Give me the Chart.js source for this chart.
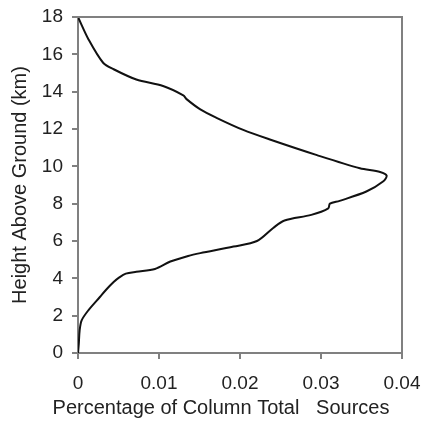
<!DOCTYPE html>
<html>
<head>
<meta charset="utf-8">
<script src="https://cdn.jsdelivr.net/npm/chart.js@4"></script>
<style>
  html, body { margin: 0; padding: 0; background: #fff; }
  #wrap { width: 423px; height: 422px; }
</style>
</head>
<body>
<div id="wrap"><canvas id="profile"></canvas></div>
<script>
// Height above ground (km) and matching share of column total
const heights = [0, 0.5, 1.2, 1.75, 2.3, 3.0, 3.4, 3.8, 4.05, 4.25, 4.35, 4.5, 4.9, 5.2, 5.35, 5.7, 6.0, 6.7, 7.1, 7.4, 7.75, 8.0, 8.15, 8.65, 9.2, 9.5, 9.7, 9.9, 10.6, 11.45, 11.95, 12.6, 13.05, 13.6, 13.8, 14.3, 14.65, 15.2, 15.55, 16.8, 18];
const fractions = [0, 0.0001, 0.0002, 0.00045, 0.0013, 0.0027, 0.0035, 0.0044, 0.0051, 0.0059, 0.0072, 0.0095, 0.0114, 0.0136, 0.0151, 0.0192, 0.0221, 0.0241, 0.0255, 0.0288, 0.0309, 0.0311, 0.0323, 0.0356, 0.0377, 0.0381, 0.0373, 0.0348, 0.0295, 0.0236, 0.0204, 0.0171, 0.0151, 0.0134, 0.013, 0.0105, 0.0072, 0.0044, 0.0031, 0.0013, 0];
const xTicks = [0, 0.01, 0.02, 0.03, 0.04];
const yTicks = [0, 2, 4, 6, 8, 10, 12, 14, 16, 18];
const xTitle = "Percentage of Column Total   Sources";
const yTitle = "Height Above Ground (km)";

const points = heights.map((h, i) => ({ x: fractions[i], y: h }));

const tickFont = { family: "'Liberation Sans', Arial, sans-serif", size: 19 };
const titleFont = { family: "'Liberation Sans', Arial, sans-serif", size: 20 };

// box around the plot area (top and right sides) + x title, which sits
// a bit left of the plot centre in the original
const frame = {
  id: "frame",
  afterDraw(chart) {
    const a = chart.chartArea;
    const ctx = chart.ctx;
    ctx.save();
    ctx.strokeStyle = "#808080";
    ctx.lineWidth = 2;
    ctx.beginPath();
    ctx.moveTo(a.left, a.top);
    ctx.lineTo(a.right, a.top);
    ctx.lineTo(a.right, a.bottom);
    ctx.stroke();

    ctx.fillStyle = "#222";
    ctx.font = titleFont.size + "px " + titleFont.family;
    ctx.textAlign = "center";
    ctx.textBaseline = "middle";
    ctx.fillText(xTitle, (a.left + a.right) / 2 - 19, chart.height - 14);
    ctx.restore();
  },
};

new Chart(document.getElementById("profile"), {
  type: "scatter",
  data: {
    datasets: [
      {
        data: points,
        showLine: true,
        borderColor: "#111",
        borderWidth: 2,
        pointRadius: 0,
        tension: 0.3,
      },
    ],
  },
  options: {
    responsive: true,
    maintainAspectRatio: false,
    animation: false,
    layout: { padding: { top: 17, right: 21, bottom: 0, left: 0 } },
    plugins: { legend: { display: false }, tooltip: { enabled: false } },
    scales: {
      x: {
        type: "linear",
        min: 0,
        max: 0.04,
        afterBuildTicks: (s) => { s.ticks = xTicks.map((v) => ({ value: v })); },
        afterFit: (s) => {
          s.height = 69;
          s.paddingLeft = 0;
          s.paddingRight = 0;
        },
        ticks: {
          color: "#222",
          font: tickFont,
          padding: 13,
          maxRotation: 0,
          callback: (v) => String(+v.toFixed(2)),
        },
        grid: { drawOnChartArea: false, tickLength: 6, color: "#808080", lineWidth: 2 },
        border: { color: "#808080", width: 2 },
        title: { display: false },
      },
      y: {
        type: "linear",
        min: 0,
        max: 18,
        afterBuildTicks: (s) => { s.ticks = yTicks.map((v) => ({ value: v })); },
        afterFit: (s) => {
          s.width = 78;
          s.paddingTop = 0;
          s.paddingBottom = 0;
        },
        ticks: { color: "#222", font: tickFont, padding: 9 },
        grid: { drawOnChartArea: false, tickLength: 6, color: "#808080", lineWidth: 2 },
        border: { color: "#808080", width: 2 },
        title: {
          display: true,
          text: yTitle,
          color: "#222",
          font: titleFont,
          padding: { top: 8, bottom: 0 },
        },
      },
    },
  },
  plugins: [frame],
});
</script>
</body>
</html>
